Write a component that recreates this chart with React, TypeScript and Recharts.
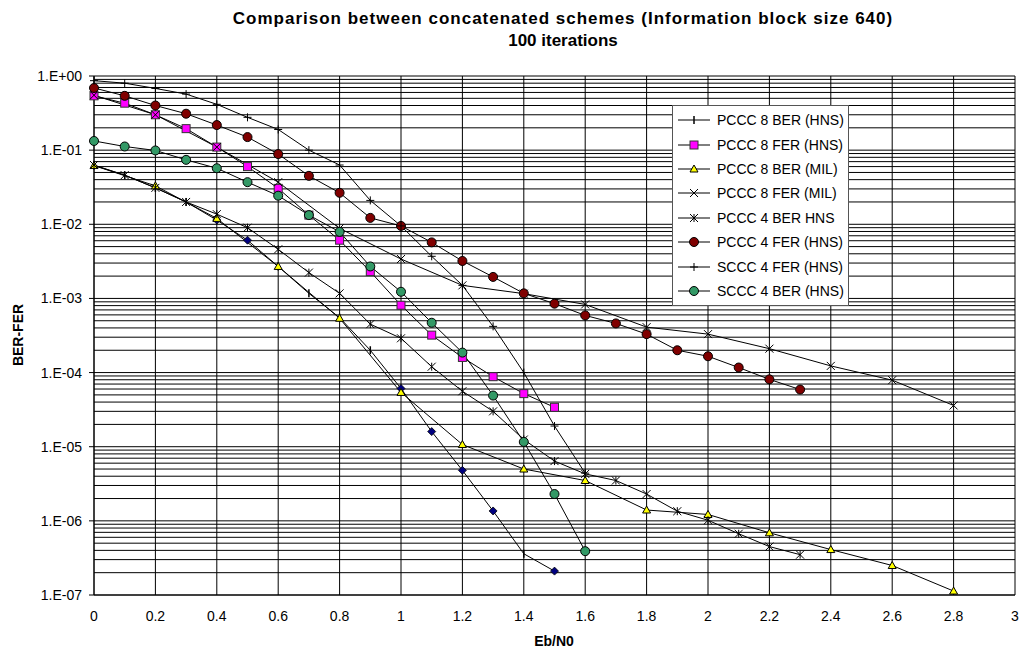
import React from 'react'
import { LineChart, Line, XAxis, YAxis, CartesianGrid, ReferenceLine, Legend } from 'recharts'

// Eb/N0 grid (0.1 steps); series measured only every 0.2 carry null in between
const ebN0 = [0, 0.1, 0.2, 0.3, 0.4, 0.5, 0.6, 0.7, 0.8, 0.9, 1.0, 1.1, 1.2, 1.3, 1.4, 1.5, 1.6, 1.7, 1.8, 1.9, 2.0, 2.1, 2.2, 2.3, 2.4, 2.5, 2.6, 2.7, 2.8]

const pccc8BerHns = [0.062, 0.046, 0.031, 0.02, 0.0114, 0.0061, 0.0027, 0.00117, 5.5e-4, 2.0e-4, 6.1e-5, 1.6e-5, 4.8e-6, 1.36e-6, 3.6e-7, 2.1e-7, null, null, null, null, null, null, null, null, null, null, null, null, null]
const pccc8FerHns = [0.54, 0.43, 0.3, 0.195, 0.11, 0.06, 0.0305, 0.0133, 0.0061, 0.0023, 8.1e-4, 3.2e-4, 1.6e-4, 8.8e-5, 5.2e-5, 3.4e-5, null, null, null, null, null, null, null, null, null, null, null, null, null]
const pccc8BerMil = [0.062, null, 0.033, null, 0.012, null, 0.0027, null, 5.4e-4, null, 5.4e-5, null, 1.07e-5, null, 5.0e-6, null, 3.5e-6, null, 1.4e-6, null, 1.22e-6, null, 6.9e-7, null, 4.1e-7, null, 2.5e-7, null, 1.13e-7]
const pccc8FerMil = [0.55, null, 0.3, null, 0.11, null, 0.037, null, 0.0088, null, 0.0034, null, 0.0015, null, 0.00116, null, 8.3e-4, null, 4.1e-4, null, 3.3e-4, null, 2.1e-4, null, 1.23e-4, null, 7.9e-5, null, 3.6e-5]
const pccc4BerHns = [0.063, 0.046, 0.031, 0.02, 0.0137, 0.009, 0.0046, 0.00223, 0.00117, 4.5e-4, 2.9e-4, 1.2e-4, 5.6e-5, 3.0e-5, 1.25e-5, 6.4e-6, 4.3e-6, 3.5e-6, 2.3e-6, 1.35e-6, 1.02e-6, 6.7e-7, 4.5e-7, 3.5e-7, null, null, null, null, null]
const pccc4FerHns = [0.69, 0.54, 0.4, 0.31, 0.218, 0.15, 0.0885, 0.045, 0.0266, 0.0122, 0.0095, 0.0057, 0.0032, 0.00195, 0.00117, 8.5e-4, 5.9e-4, 4.6e-4, 3.3e-4, 2.0e-4, 1.66e-4, 1.17e-4, 8.1e-5, 5.9e-5, null, null, null, null, null]
const sccc4FerHns = [0.865, 0.8, 0.68, 0.57, 0.415, 0.277, 0.19, 0.1, 0.063, 0.021, 0.0095, 0.0037, 0.0015, 4.2e-4, 1.0e-4, 1.9e-5, 4.4e-6, null, null, null, null, null, null, null, null, null, null, null, null]
const sccc4BerHns = [0.133, 0.112, 0.099, 0.074, 0.057, 0.037, 0.0243, 0.0133, 0.0079, 0.0027, 0.00123, 4.7e-4, 1.86e-4, 4.9e-5, 1.16e-5, 2.3e-6, 3.9e-7, null, null, null, null, null, null, null, null, null, null, null, null]

const xTicks = [0, 0.2, 0.4, 0.6, 0.8, 1, 1.2, 1.4, 1.6, 1.8, 2, 2.2, 2.4, 2.6, 2.8, 3]
const yTicks = [1e-7, 1e-6, 1e-5, 1e-4, 1e-3, 1e-2, 1e-1, 1]

// points of PCCC 8 BER (HNS) that were drawn as navy diamonds in the original
const diamondAt = [0.4, 0.5, 1.0, 1.1, 1.2, 1.3, 1.5]

type MarkerKind = 'bar' | 'square' | 'triangle' | 'cross' | 'star' | 'circle' | 'plus' | 'diamond'

const SERIES: { key: string, name: string, values: (number | null)[], marker: MarkerKind, fill: string }[] = [
    { key: 'pccc8BerHns', name: 'PCCC 8 BER (HNS)', values: pccc8BerHns, marker: 'bar', fill: '#000080' },
    { key: 'pccc8FerHns', name: 'PCCC 8 FER (HNS)', values: pccc8FerHns, marker: 'square', fill: '#ff00ff' },
    { key: 'pccc8BerMil', name: 'PCCC 8 BER (MIL)', values: pccc8BerMil, marker: 'triangle', fill: '#ffff00' },
    { key: 'pccc8FerMil', name: 'PCCC 8 FER (MIL)', values: pccc8FerMil, marker: 'cross', fill: '#000' },
    { key: 'pccc4BerHns', name: 'PCCC 4 BER HNS', values: pccc4BerHns, marker: 'star', fill: '#000' },
    { key: 'pccc4FerHns', name: 'PCCC 4 FER (HNS)', values: pccc4FerHns, marker: 'circle', fill: '#800000' },
    { key: 'sccc4FerHns', name: 'SCCC 4 FER (HNS)', values: sccc4FerHns, marker: 'plus', fill: '#000' },
    { key: 'sccc4BerHns', name: 'SCCC 4 BER (HNS)', values: sccc4BerHns, marker: 'circle', fill: '#339966' },
]

const data = ebN0.map((x, i) => {
    const row: Record<string, number | null> = { x }
    SERIES.forEach(s => { row[s.key] = s.values[i] })
    return row
})

// minor log gridlines 2..9 in every decade
const minorLines: number[] = []
for (let e = -7; e < 0; e++) {
    for (let k = 2; k <= 9; k++) minorLines.push(k * Math.pow(10, e))
}

const FONT = '"Liberation Sans", Arial, sans-serif'

const Marker = ({ kind, cx, cy, fill }: { kind: MarkerKind, cx: number, cy: number, fill: string }) => {
    const s = 4
    switch (kind) {
        case 'bar':
            return <line x1={cx} y1={cy - s} x2={cx} y2={cy + s} stroke="#000" strokeWidth={1.5} />
        case 'diamond':
            return <polygon points={`${cx},${cy - s} ${cx + s},${cy} ${cx},${cy + s} ${cx - s},${cy}`} fill={fill} stroke="#000" strokeWidth={0.8} />
        case 'square':
            return <rect x={cx - s} y={cy - s} width={s * 2} height={s * 2} fill={fill} stroke="#333" strokeWidth={1} />
        case 'triangle':
            return <polygon points={`${cx},${cy - s} ${cx + s},${cy + s - 1} ${cx - s},${cy + s - 1}`} fill={fill} stroke="#000" strokeWidth={1} />
        case 'cross':
            return (
                <g stroke="#000" strokeWidth={1}>
                    <line x1={cx - s} y1={cy - s} x2={cx + s} y2={cy + s} />
                    <line x1={cx - s} y1={cy + s} x2={cx + s} y2={cy - s} />
                </g>
            )
        case 'star':
            return (
                <g stroke="#000" strokeWidth={1}>
                    <line x1={cx - s} y1={cy - s} x2={cx + s} y2={cy + s} />
                    <line x1={cx - s} y1={cy + s} x2={cx + s} y2={cy - s} />
                    <line x1={cx} y1={cy - s} x2={cx} y2={cy + s} />
                </g>
            )
        case 'plus':
            return (
                <g stroke="#000" strokeWidth={1}>
                    <line x1={cx - s} y1={cy} x2={cx + s} y2={cy} />
                    <line x1={cx} y1={cy - s} x2={cx} y2={cy + s} />
                </g>
            )
        default:
            return <circle cx={cx} cy={cy} r={4.5} fill={fill} stroke="#000" strokeWidth={1} />
    }
}

const makeDot = (s: typeof SERIES[number]) => (props: any) => {
    const { cx, cy, index, payload } = props
    if (cx == null || cy == null || payload == null || payload[s.key] == null) return <g key={`${s.key}-${index}`} />
    let kind = s.marker
    if (s.key === 'pccc8BerHns' && diamondAt.some(v => Math.abs(v - payload.x) < 1e-6)) kind = 'diamond'
    return <Marker key={`${s.key}-${index}`} kind={kind} cx={cx} cy={cy} fill={s.fill} />
}

const LegendBox = () => (
    <div style={{ background: '#fff', border: '1px solid #555', padding: '2px 4px 2px 4px', fontFamily: FONT, fontSize: 14 }}>
        {SERIES.map(s => (
            <div key={s.key} style={{ display: 'flex', alignItems: 'center', height: 24.4 }}>
                <svg width={36} height={14} style={{ marginRight: 4 }}>
                    <line x1={1} y1={7} x2={33} y2={7} stroke="#000" strokeWidth={1} />
                    <Marker kind={s.marker} cx={17} cy={7} fill={s.fill} />
                </svg>
                <span style={{ whiteSpace: 'nowrap', color: '#000' }}>{s.name}</span>
            </div>
        ))}
    </div>
)

const fmtY = (v: number) => {
    const e = Math.round(Math.log10(v))
    return '1.E' + (e < 0 ? '-' : '+') + String(Math.abs(e)).padStart(2, '0')
}

const App = () => {
    return (
        <div style={{ position: 'absolute', left: 0, top: 0, width: 1024, height: 654, background: '#fff', fontFamily: FONT }}>
            <div style={{ position: 'absolute', left: 0, width: 1126, top: 8, textAlign: 'center', fontWeight: 'bold', fontSize: 17, lineHeight: '22px' }}>
                <span style={{ letterSpacing: 1 }}>Comparison between concatenated schemes (Information block size 640)</span><br />100 iterations
            </div>
            <div style={{ position: 'absolute', left: 18, top: 335, transform: 'translate(-50%, -50%) rotate(-90deg)', fontWeight: 'bold', fontSize: 14, whiteSpace: 'nowrap' }}>
                BER-FER
            </div>
            <div style={{ position: 'absolute', left: 554, top: 641, transform: 'translate(-50%, -50%)', fontWeight: 'bold', fontSize: 14 }}>
                Eb/N0
            </div>
            <LineChart width={1024} height={654} data={data} margin={{ top: 76, right: 9, bottom: 0, left: 0 }}>
                <CartesianGrid stroke="#000" strokeWidth={1} />
                {minorLines.map(v => (
                    <ReferenceLine key={v} y={v} stroke="#000" strokeWidth={1} />
                ))}
                <XAxis dataKey="x" type="number" domain={[0, 3]} ticks={xTicks} height={59}
                    tickFormatter={(v: number) => String(Math.round(v * 10) / 10)}
                    tick={{ fill: '#000', fontSize: 14, fontFamily: FONT }} tickSize={0} tickMargin={16}
                    axisLine={{ stroke: '#000' }} />
                <YAxis type="number" scale="log" domain={[1e-7, 1]} ticks={yTicks} width={94} allowDataOverflow
                    tickFormatter={fmtY} tick={{ fill: '#000', fontSize: 14, fontFamily: FONT }}
                    tickSize={5} tickMargin={7} tickLine={{ stroke: '#000' }} axisLine={{ stroke: '#000' }} />
                {SERIES.map(s => (
                    <Line key={s.key} type="linear" dataKey={s.key} name={s.name} stroke="#000" strokeWidth={1}
                        dot={makeDot(s)} activeDot={false} connectNulls isAnimationActive={false} />
                ))}
                <Legend layout="horizontal" align="center" verticalAlign="middle"
                    wrapperStyle={{ left: 672, top: 105, width: 'auto', bottom: 'auto' }}
                    content={() => <LegendBox />} />
            </LineChart>
        </div>
    )
}

export default App
